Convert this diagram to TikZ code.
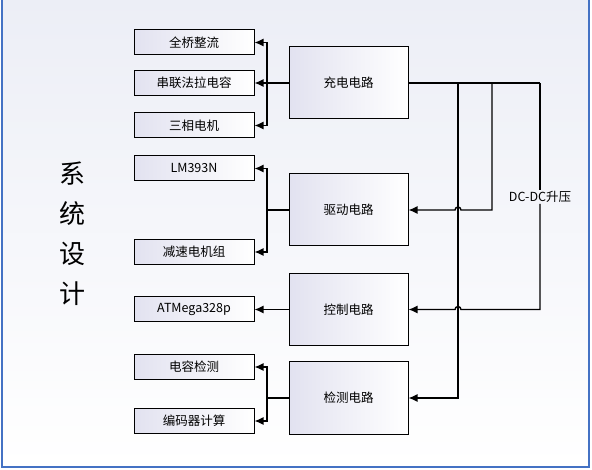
\documentclass[tikz,border=0pt]{standalone}
\usepackage{fontspec}
\setmainfont{Noto Sans CJK SC}
\usetikzlibrary{arrows.meta,positioning}
\definecolor{FrameBlue}{HTML}{4472C4}
\definecolor{PageTint}{HTML}{ECEEF6}
\definecolor{BoxTint}{HTML}{E2E2F0}

\begin{document}
\begin{tikzpicture}[x=1pt, y=-1pt, >={Latex[length=9pt,width=8pt]},
  every node/.style={font=\fontsize{12.5}{15}\selectfont, align=center},
  part/.style={draw, line width=1pt, left color=BoxTint, right color=white, minimum width=120pt, minimum height=25pt, inner sep=0pt},
  block/.style={part, minimum width=119pt, minimum height=72pt},
  wire/.style={line width=1.4pt},
  feed/.style={wire, ->}]
  \useasboundingbox (0,0) rectangle (592,470);
  \fill[top color=PageTint, bottom color=white] (2,-3) rectangle (589,467);
  \draw[FrameBlue, line width=1.5pt] (2,-3) rectangle (589,467);

  \node[font=\fontsize{26}{40}\selectfont] (title) at (72.5,234) {系\\统\\设\\计};

  \node[block] (charge) at (348.5,83) {充电电路};
  \node[block] (drive) at (348.5,210) {驱动电路};
  \node[block] (ctrl) at (348.5,309.5) {控制电路};
  \node[block] (sense) at (348.5,398) {检测电路};

  \node[part] (bridge) at (194,42.5) {全桥整流};
  \node[part] (supercap) at (194,83) {串联法拉电容};
  \node[part] (motor) at (194,125.5) {三相电机};
  \node[part] (cmp) at (194,168.5) {LM393N};
  \node[part] (gear) at (194,252) {减速电机组};
  \node[part] (mcu) at (194,309.5) {ATMega328p};
  \node[part] (capsense) at (194,367) {电容检测};
  \node[part] (encoder) at (194,421) {编码器计算};

  \coordinate (hub1) at (267,83);
  \coordinate (hub2) at (267,210);
  \coordinate (hub4) at (267,398);
  \draw[wire] (charge.west) -- (hub1);
  \draw[feed] (hub1) |- (bridge.east);
  \draw[feed] (hub1) -- (supercap.east);
  \draw[feed] (hub1) |- (motor.east);
  \draw[wire] (drive.west) -- (hub2);
  \draw[feed] (hub2) |- (cmp.east);
  \draw[feed] (hub2) |- (gear.east);
  \draw[feed] (ctrl.west) -- (mcu.east);
  \draw[wire] (sense.west) -- (hub4);
  \draw[feed] (hub4) |- (capsense.east);
  \draw[feed] (hub4) |- (encoder.east);

  \coordinate (tapA) at (458,83);
  \coordinate (tapB) at (492,83);
  \coordinate (tapC) at (540,83);
  \node[inner sep=1pt] (dcdc) at (540,197) {DC-DC升压};
  \draw[wire] (charge.east) -- (tapC);
  \draw[feed] (tapA) |- (sense.east);
  \draw[feed] (tapB) -- (tapB |- drive.east) -- ([xshift=3pt]tapA |- drive.east)
    arc[start angle=0, end angle=180, radius=3pt] -- (drive.east);
  \draw[wire] (tapC) -- (dcdc.north);
  \draw[feed] (dcdc.south) -- (dcdc.south |- ctrl.east) -- ([xshift=3pt]tapA |- ctrl.east)
    arc[start angle=0, end angle=180, radius=3pt] -- (ctrl.east);
\end{tikzpicture}
\end{document}
